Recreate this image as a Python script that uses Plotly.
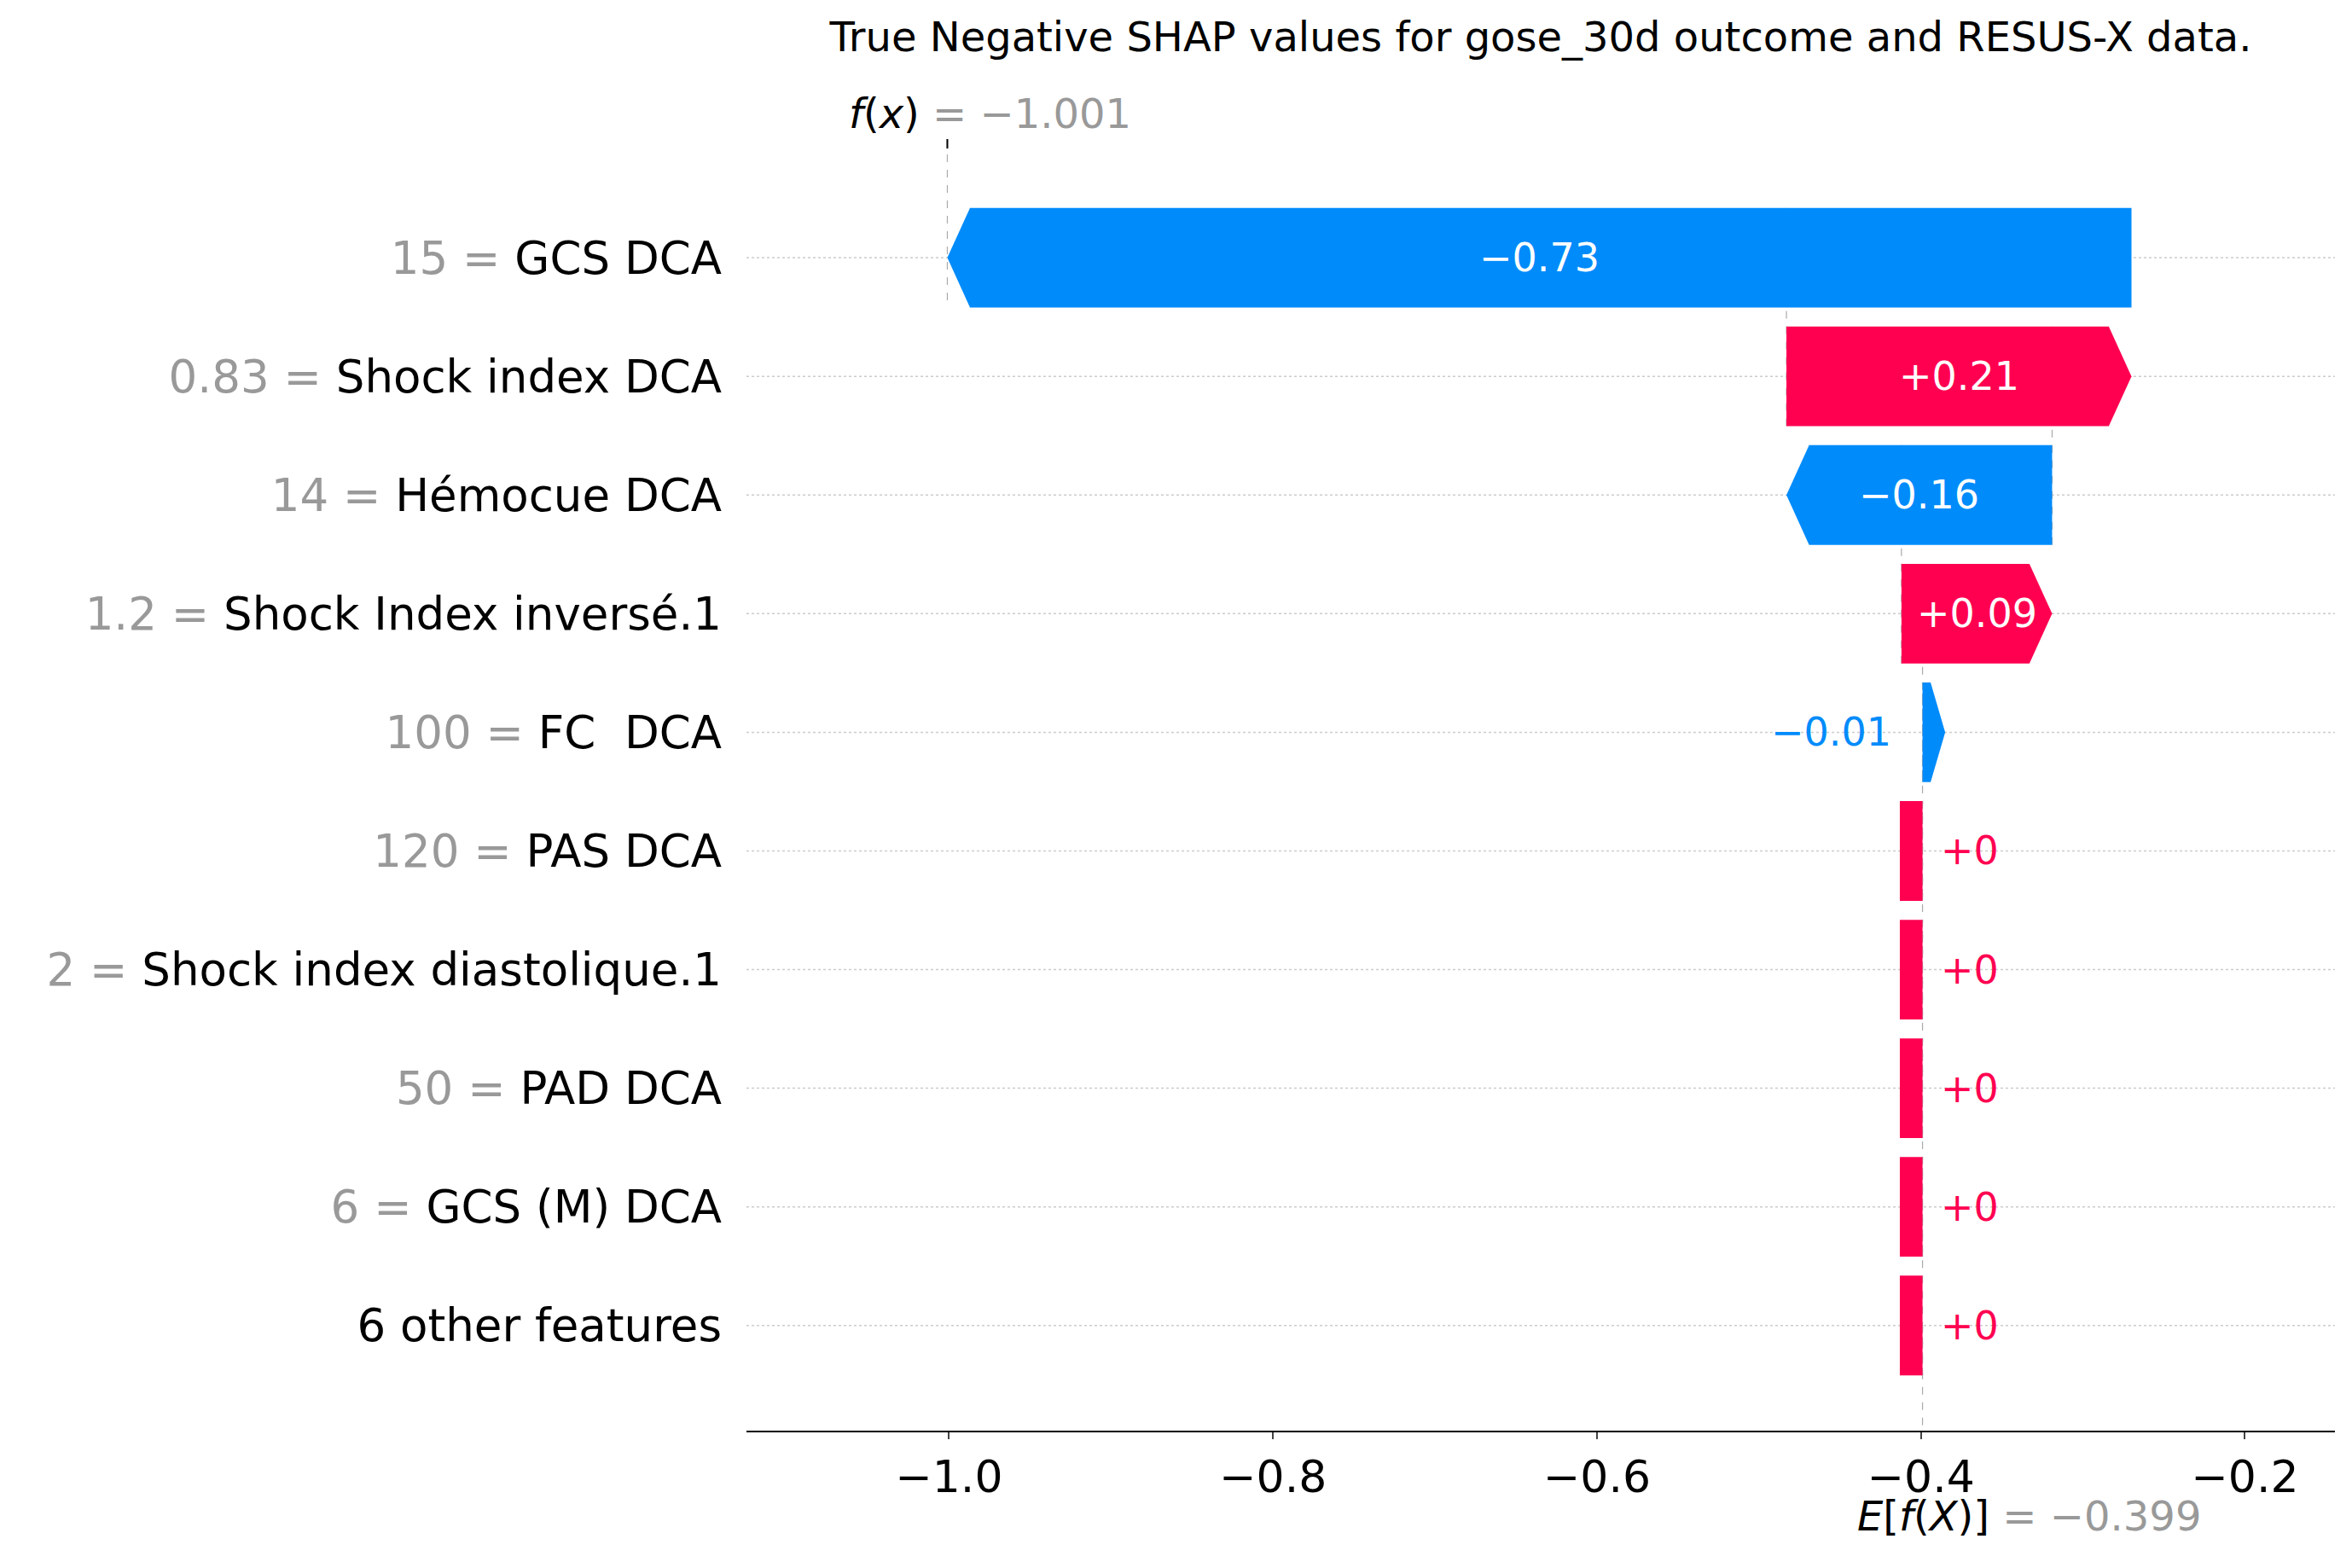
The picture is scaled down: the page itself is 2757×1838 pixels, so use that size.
import plotly.graph_objects as go

# SHAP waterfall data (top row first)
feat_vals = ["15", "0.83", "14", "1.2", "100", "120", "2", "50", "6", ""]
feat_names = ["GCS DCA", "Shock index DCA", "Hémocue DCA", "Shock Index inversé.1",
              "FC  DCA", "PAS DCA", "Shock index diastolique.1", "PAD DCA",
              "GCS (M) DCA", "6 other features"]
shap_vals = [-0.731, 0.213, -0.164, 0.093, -0.013, 0.0, 0.0, 0.0, 0.0, 0.0]
shap_text = ["\u22120.73", "+0.21", "\u22120.16", "+0.09", "\u22120.01", "+0", "+0", "+0", "+0", "+0"]
base_value = -0.399
fx_value = -1.001
xticks = [-1.0, -0.8, -0.6, -0.4, -0.2]

RED = "#ff0051"
BLUE = "#008bfb"
n = len(feat_names)
hh = 0.42          # half bar height (row units)
head = 0.014       # arrow head length (x units)
minw = 0.014
BAR_FONT = 46

fig = go.Figure()
shapes = []
annos = []

# cumulative positions, bottom row first
starts = [0.0] * n
ends = [0.0] * n
cur = base_value
for i in range(n - 1, -1, -1):
    starts[i] = cur
    cur = cur + shap_vals[i]
    ends[i] = cur

for i in range(n):
    v = shap_vals[i]
    col = RED if v >= 0 else BLUE
    s, e = starts[i], ends[i]
    if abs(v) < 0.005:
        x0, x1 = s - minw, s
        path = f"M{x0},{i-hh} L{x1},{i-hh} L{x1},{i+hh} L{x0},{i+hh} Z"
        annos.append(dict(x=x1 + 0.01, y=i, text=shap_text[i], showarrow=False,
                          xanchor="left", font=dict(color=col, size=BAR_FONT)))
    elif abs(v) < 0.03:
        x0 = s
        x1 = s + minw
        path = (f"M{x0},{i-hh} L{x0+0.005},{i-hh} L{x1},{i} "
                f"L{x0+0.005},{i+hh} L{x0},{i+hh} Z")
        annos.append(dict(x=x0 - 0.018, y=i, text=shap_text[i], showarrow=False,
                          xanchor="right", font=dict(color=col, size=BAR_FONT)))
    else:
        lo, hi = min(s, e), max(s, e)
        if v > 0:
            path = (f"M{lo},{i-hh} L{hi-head},{i-hh} L{hi},{i} L{hi-head},{i+hh} "
                    f"L{lo},{i+hh} Z")
        else:
            path = (f"M{hi},{i-hh} L{lo+head},{i-hh} L{lo},{i} L{lo+head},{i+hh} "
                    f"L{hi},{i+hh} Z")
        annos.append(dict(x=(lo + hi) / 2, y=i, text=shap_text[i], showarrow=False,
                          font=dict(color="white", size=BAR_FONT)))
    shapes.append(dict(type="path", path=path, xref="x", yref="y",
                       fillcolor=col, line=dict(width=0), layer="above"))
    shapes.append(dict(type="line", xref="paper", yref="y", x0=0, x1=1, y0=i, y1=i,
                       line=dict(color="#cccccc", width=1.5, dash="dot"), layer="below"))
    if i > 0:
        shapes.append(dict(type="line", xref="x", yref="y", x0=s, x1=s,
                           y0=i + hh, y1=i - 1 - hh,
                           line=dict(color="#aaaaaa", width=1.2, dash="dash"), layer="below"))

shapes.append(dict(type="line", xref="x", yref="y", x0=base_value, x1=base_value,
                   y0=n - 1, y1=9.886, line=dict(color="#aaaaaa", width=1.2, dash="dash"),
                   layer="below"))
shapes.append(dict(type="line", xref="x", yref="y", x0=fx_value, x1=fx_value,
                   y0=-1.0, y1=0 + hh, line=dict(color="#aaaaaa", width=1.2, dash="dash"),
                   layer="below"))
shapes.append(dict(type="line", xref="x", yref="y", x0=fx_value, x1=fx_value,
                   y0=-1.0, y1=-0.92, line=dict(color="black", width=2)))

annos.append(dict(x=fx_value, y=-1.0, xref="x", yref="y", yanchor="bottom", showarrow=False,
                  text="<i>f</i>(<i>x</i>) <span style='color:#999999'>= \u22121.001</span>",
                  font=dict(size=48, color="black"), yshift=0, xshift=50))
annos.append(dict(x=base_value, y=0, xref="x", yref="paper", yanchor="top", showarrow=False,
                  text="<i>E</i>[<i>f</i>(<i>X</i>)] <span style='color:#999999'>= \u22120.399</span>",
                  font=dict(size=48, color="black"), yshift=-70, xshift=125))

ticktext = [f"<span style='color:#999999'>{v} = </span>{nm}" if v else nm
            for v, nm in zip(feat_vals, feat_names)]

fig.add_trace(go.Scatter(x=[base_value], y=[0], mode="markers",
                         marker=dict(opacity=0), hoverinfo="skip", showlegend=False))

fig.update_layout(
    width=2757, height=1838,
    margin=dict(l=867, r=28, t=155, b=169),
    plot_bgcolor="white", paper_bgcolor="white",
    font=dict(family="DejaVu Sans", color="black"),
    title=dict(text="True Negative SHAP values for gose_30d outcome and RESUS-X data.",
               x=(867 + (2757 - 28)) / 2 / 2757, xanchor="center", y=0.99, yanchor="top",
               font=dict(size=48)),
    shapes=shapes, annotations=annos,
    xaxis=dict(range=[-1.125, -0.1444], tickvals=xticks,
               ticktext=[f"\u2212{abs(t):.1f}" for t in xticks],
               showgrid=False, zeroline=False, showline=True, linecolor="black", linewidth=2,
               ticks="outside", ticklen=8, tickwidth=2, tickfont=dict(size=52)),
    yaxis=dict(range=[9.886, -1.0], tickvals=list(range(n)), ticktext=ticktext,
               showgrid=False, zeroline=False, showline=False, ticks="",
               tickfont=dict(size=53), ticklabelstandoff=28),
)

fig.write_html("out.html")
